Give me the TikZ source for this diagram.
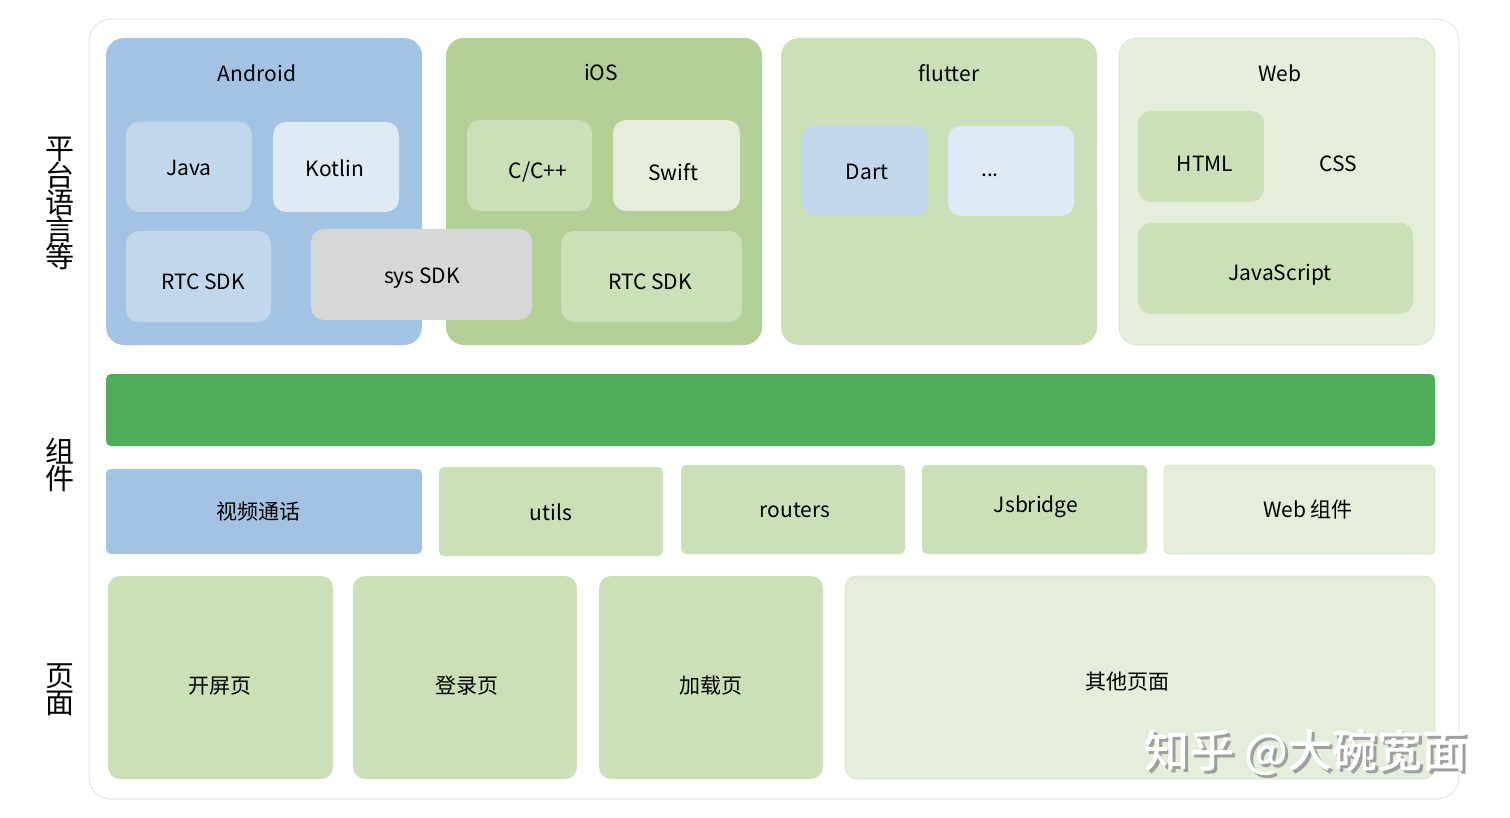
\documentclass[tikz,border=0pt]{standalone}
\usepackage{fontspec}
\setmainfont{Noto Sans CJK SC}
\newfontfamily\wmfont{Noto Sans CJK SC Medium}
\definecolor{andblue}{HTML}{A4C2E4}
\definecolor{lblue}{HTML}{C3D7EC}
\definecolor{vlblue}{HTML}{E0EAF5}
\definecolor{iosgreen}{HTML}{B1CF97}
\definecolor{midgreen}{HTML}{CBDFB8}
\definecolor{palegreen}{HTML}{E4EEDB}
\definecolor{sysgray}{HTML}{D7D7D7}
\definecolor{bargreen}{HTML}{4FAC5B}
\definecolor{edgegray}{HTML}{E3E7E7}
\definecolor{webedge}{HTML}{D8E4CF}
\tikzset{
  x=1pt, y=-1pt,
  box/.style={rectangle, rounded corners=13pt, inner sep=0pt, outer sep=0pt, draw=none},
  bigbox/.style={box, rounded corners=18pt},
  lbl/.style={font=\fontsize{21}{25}\selectfont, inner sep=0pt},
  side/.style={font=\fontsize{29}{27}\selectfont, align=center, inner sep=0pt},
}
% #1 name, #2 x1, #3 y1, #4 x2, #5 y2, #6 style
\newcommand\mybox[6]{\node[#6, minimum width=#4pt-#2pt, minimum height=#5pt-#3pt] (#1) at ({(#2+#4)/2},{(#3+#5)/2}) {};}
\begin{document}
\begin{tikzpicture}
\useasboundingbox[fill=white] (0,0) rectangle (1510,818);
% outer frame
\mybox{frame}{89}{19}{1459}{799}{bigbox, rounded corners=22pt, draw=edgegray, line width=1pt, fill=white}
% side labels
\node[side] (s1) at (60,203) {平\\台\\语\\言\\等};
\node[side] (s2) at (60,465) {组\\件};
\node[side] (s3) at (60,690) {页\\面};
% Android
\mybox{android}{106}{38}{422}{345}{bigbox, fill=andblue}
\node[lbl] (androidT) at (257,73) {Android};
\mybox{java}{126}{122}{252}{212}{box, fill=lblue}
\node[lbl] (javaT) at (189,168) {Java};
\mybox{kotlin}{273}{122}{399}{212}{box, fill=vlblue}
\node[lbl] (kotlinT) at (335,168) {Kotlin};
\mybox{rtca}{126}{231}{271}{322}{box, fill=lblue}
\node[lbl] (rtcaT) at (203,282) {RTC SDK};
% iOS
\mybox{ios}{446}{38}{762}{345}{bigbox, fill=iosgreen}
\node[lbl] (iosT) at (601,73) {iOS};
\mybox{cpp}{467}{120}{592}{211}{box, fill=midgreen}
\node[lbl] (cppT) at (538,172) {C/C++};
\mybox{swift}{613}{120}{740}{211}{box, fill=palegreen}
\node[lbl] (swiftT) at (673,172) {Swift};
\mybox{rtci}{561}{231}{742}{322}{box, fill=midgreen}
\node[lbl] (rtciT) at (650,282) {RTC SDK};
% sys SDK (overlaps)
\mybox{sys}{311}{229}{532}{320}{box, fill=sysgray}
\node[lbl] (sysT) at (422,278) {sys SDK};
% flutter
\mybox{flutter}{781}{38}{1097}{345}{bigbox, fill=midgreen}
\node[lbl] (flutterT) at (949,73) {flutter};
\mybox{dart}{802}{126}{928}{216}{box, fill=lblue}
\node[lbl] (dartT) at (867,172) {Dart};
\mybox{more}{948}{126}{1074}{216}{box, fill=vlblue}
\node[lbl] (moreT) at (990,175) {...};
% Web
\mybox{web}{1119}{38}{1435}{345}{bigbox, fill=palegreen, draw=webedge, line width=0.8pt}
\node[lbl] (webT) at (1280,73) {Web};
\mybox{html}{1138}{111}{1264}{202}{box, fill=midgreen}
\node[lbl] (htmlT) at (1205,164) {HTML};
\node[lbl] (cssT) at (1338,164) {CSS};
\mybox{js}{1138}{223}{1413}{314}{box, fill=midgreen}
\node[lbl] (jsT) at (1280,275) {JavaScript};
% green bar
\mybox{bar}{106}{374}{1435}{446}{box, rounded corners=5pt, fill=bargreen}
% components
\mybox{video}{106}{469}{422}{554}{box, rounded corners=5pt, fill=andblue}
\node[lbl] (videoT) at (258,512) {视频通话};
\mybox{utils}{439}{467}{663}{556}{box, rounded corners=5pt, fill=midgreen}
\node[lbl] (utilsT) at (551,512) {utils};
\mybox{routers}{681}{465}{905}{554}{box, rounded corners=5pt, fill=midgreen}
\node[lbl] (routersT) at (795,510) {routers};
\mybox{jsb}{922}{465}{1147}{554}{box, rounded corners=5pt, fill=midgreen}
\node[lbl] (jsbT) at (1036,507) {Jsbridge};
\mybox{webc}{1164}{465}{1435}{554}{box, rounded corners=5pt, fill=palegreen, draw=webedge, line width=0.8pt}
\node[lbl] (webcT) at (1308,510) {Web 组件};
% pages
\mybox{p1}{108}{576}{333}{779}{box, rounded corners=12pt, fill=midgreen}
\node[lbl] (p1T) at (220,686) {开屏页};
\mybox{p2}{353}{576}{577}{779}{box, rounded corners=12pt, fill=midgreen}
\node[lbl] (p2T) at (467,686) {登录页};
\mybox{p3}{599}{576}{823}{779}{box, rounded corners=12pt, fill=midgreen}
\node[lbl] (p3T) at (711,686) {加载页};
\mybox{p4}{845}{576}{1435}{779}{box, rounded corners=12pt, fill=palegreen, draw=webedge, line width=0.8pt}
\node[lbl] (p4T) at (1127,682) {其他页面};
% watermark
\node[font=\wmfont\fontsize{45}{47}\selectfont, text=gray!75, inner sep=0pt] (wmS) at (1309,755) {知乎 @大碗宽面};
\node[font=\wmfont\fontsize{45}{47}\selectfont, text=white, inner sep=0pt] (wm) at (1306,752) {知乎 @大碗宽面};
\end{tikzpicture}
\end{document}
